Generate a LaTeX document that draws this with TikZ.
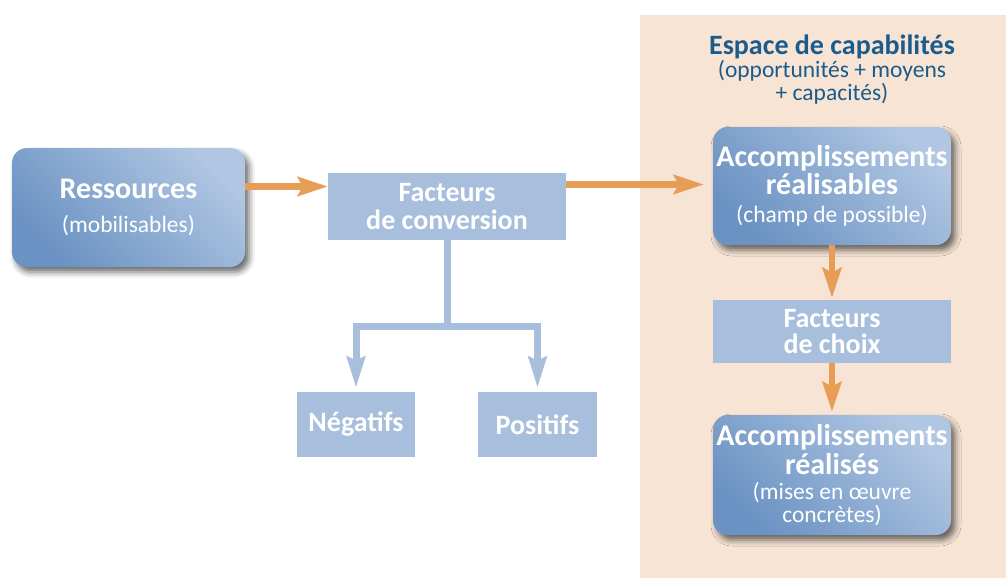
\documentclass[tikz,border=0pt]{standalone}
\usepackage{fontspec}
\setmainfont{Carlito}
\usetikzlibrary{arrows.meta,shadows.blur}

\definecolor{peach}{HTML}{F7E4D5}
\definecolor{flatblue}{HTML}{A7BEDC}
\definecolor{deepblue}{HTML}{6A92C3}
\definecolor{paleblue}{HTML}{B0C6E2}
\definecolor{arroworange}{HTML}{E89D57}
\definecolor{titleblue}{HTML}{1A5C8C}

\newcommand{\tightlines}{\lineskiplimit=-20pt\relax}
\newcommand{\bigbf}{\fontsize{30}{26}\selectfont\bfseries}
\newcommand{\midbf}{\fontsize{28}{26}\selectfont\bfseries}
\newcommand{\smallrm}{\fontsize{23.5}{26}\selectfont\mdseries}
\newcommand{\boxfont}{\fontsize{23.5}{26}\selectfont\tightlines}
\newcommand{\headfont}{\fontsize{23.5}{23}\selectfont\tightlines}

\tikzset{
  roundbox/.style={rounded corners=15pt, left color=deepblue, right color=paleblue,
    shading angle=135, text=white, align=center, inner sep=0pt, font=\boxfont,
    blur shadow={shadow xshift=4pt, shadow yshift=-5pt, shadow blur radius=6pt, shadow opacity=60}},
  flatbox/.style={fill=flatblue, text=white, align=center, inner sep=0pt,
    font=\midbf\tightlines},
  orangearrow/.style={draw=arroworange, line width=6.5pt,
    -{Stealth[length=30pt, width=19pt, inset=5pt]}},
  bluearrow/.style={draw=flatblue, line width=7pt,
    -{Stealth[length=31pt, width=18pt, inset=4pt]}},
  blueline/.style={draw=flatblue, line width=7pt},
}

\begin{document}
\begin{tikzpicture}[x=1pt, y=-1pt]
  \useasboundingbox (0,0) rectangle (1006,578);
  % espace de capabilites
  \fill[peach] (640,15) rectangle (1006,578);
  \node[text=titleblue, align=center, font=\headfont] (espace) at (832,70)
    {{\fontsize{28}{23}\selectfont\bfseries Espace de capabilités}\\
     {\smallrm (opportunités + moyens}\\ {\smallrm + capacités)}};

  % boxes
  \node[roundbox, minimum width=233pt, minimum height=119pt] (res) at (128.5,207.5)
    {{\bigbf Ressources}\\[8pt] {\smallrm (mobilisables)}};
  \node[flatbox, minimum width=238pt, minimum height=67pt] (conv) at (447,206.5)
    {Facteurs\\[2pt] de conversion};
  \node[flatbox, minimum width=118pt, minimum height=65pt] (neg) at (356,424.5) {Négatifs};
  \node[flatbox, minimum width=119pt, minimum height=65pt] (pos) at (537.5,424.5) {Positifs};
  \node[roundbox, minimum width=238pt, minimum height=118pt] (possible) at (832,186)
    {{\bigbf Accomplissements}\\[2pt] {\bigbf réalisables}\\[2pt] {\smallrm (champ de possible)}};
  \node[flatbox, minimum width=238pt, minimum height=63pt] (choix) at (832,331.5)
    {Facteurs\\ de choix};
  \node[roundbox, minimum width=238pt, minimum height=120pt] (realises) at (832,475)
    {{\bigbf Accomplissements}\\[2.5pt] {\bigbf réalisés}\\[-1pt] {\smallrm (mises en œuvre}\\[-3pt] {\smallrm concrètes)}};

  % fleches
  \draw[orangearrow] ([yshift=21pt]res.east) -- ([yshift=21pt]res.east -| conv.west);
  \draw[orangearrow, shorten >=9pt] ([yshift=22pt]conv.east) -- ([yshift=22pt]conv.east -| possible.west);
  \draw[orangearrow, shorten >=2pt] (possible.south) -- (choix.north);
  \draw[orangearrow, shorten >=3pt] (choix.south) -- (realises.north);

  \coordinate (split) at (447,326);
  \draw[blueline] (conv.south) -- (split);
  \draw[bluearrow, shorten >=4pt] (split) -| (neg.north);
  \draw[bluearrow, shorten >=4pt] (split) -| (pos.north);
\end{tikzpicture}
\end{document}
